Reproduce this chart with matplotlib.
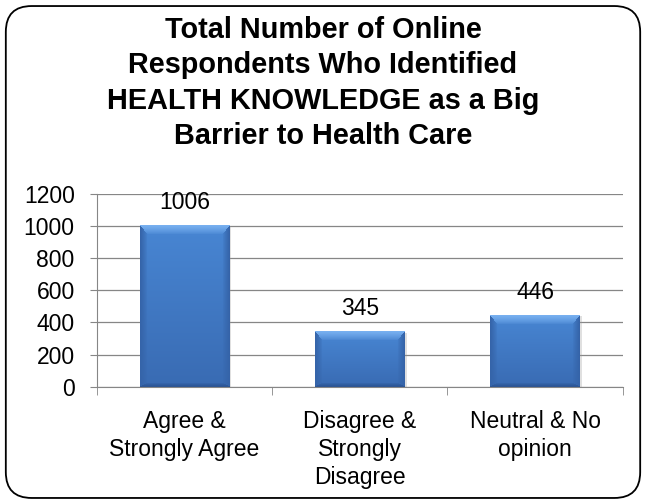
import matplotlib
matplotlib.use("Agg")
import matplotlib.pyplot as plt
import numpy as np
from matplotlib.patches import FancyBboxPatch
import matplotlib.colors as mcolors

categories = ["Agree &\nStrongly Agree", "Disagree &\nStrongly\nDisagree", "Neutral & No\nopinion"]
values = [1006, 345, 446]
yticks = [0, 200, 400, 600, 800, 1000, 1200]
title = "Total Number of Online\nRespondents Who Identified\nHEALTH KNOWLEDGE as a Big\nBarrier to Health Care"

plt.rcParams['font.family'] = ['Liberation Sans', 'DejaVu Sans']

fig = plt.figure(figsize=(6.46, 5.03), dpi=100)
fig.patch.set_facecolor('white')

# rounded border
border = FancyBboxPatch((0.009, 0.01), 0.982, 0.978, boxstyle="round,pad=0,rounding_size=0.04",
                        transform=fig.transFigure, fill=False, edgecolor='black', linewidth=1.3,
                        mutation_aspect=646/503)
fig.patches.append(border)

fig.text(0.5, 0.968, title, ha='center', va='top', fontsize=20.8, fontweight='bold',
         linespacing=1.33)

ax = fig.add_axes([0.150, 0.231, 0.814, 0.384])
x = np.arange(len(categories))
w = 0.51
ax.set_xlim(-0.5, len(categories) - 0.5)
ax.set_ylim(0, 1200)

bars = ax.bar(x, values, width=w, color='none', edgecolor='none', zorder=3)


def hexrgb(h):
    return np.array(mcolors.to_rgb(h))


c_in_top = hexrgb('#4886d3')
c_in_bot = hexrgb('#396bb3')
c_top_edge = hexrgb('#78b0f0')
c_side_edge = hexrgb('#3564a9')
c_bot_edge = hexrgb('#2a5494')

fig.canvas.draw()
for b in bars:
    x0, y0 = b.get_x(), b.get_y()
    bw, bh = b.get_width(), b.get_height()
    p0 = ax.transData.transform((x0, y0))
    p1 = ax.transData.transform((x0 + bw, y0 + bh))
    W = max(int(round(p1[0] - p0[0])), 2)
    H = max(int(round(p1[1] - p0[1])), 2)
    ii, jj = np.mgrid[0:H, 0:W].astype(float)
    t = ii / max(H - 1, 1)
    img = c_in_top[None, None, :] * (1 - t[..., None]) + c_in_bot[None, None, :] * t[..., None]
    bt, bs, bb = 9.0, 7.0, 4.0
    dt, db = ii / bt, (H - 1 - ii) / bb
    dl, dr = jj / bs, (W - 1 - jj) / bs
    ds = np.minimum(dl, dr)
    dmin = np.minimum(np.minimum(dt, db), ds)
    top = (dt == dmin) & (dt < 1)
    botm = (db == dmin) & (db < 1) & ~top
    side = (ds == dmin) & (ds < 1) & ~top & ~botm
    for mask, col, d in ((top, c_top_edge, dt), (botm, c_bot_edge, db), (side, c_side_edge, ds)):
        f = (1 - d[mask])[:, None] ** 0.8
        img[mask] = img[mask] * (1 - f) + col[None, :] * f
    ax.imshow(np.clip(img, 0, 1), extent=[x0, x0 + bw, y0, y0 + bh], aspect='auto', zorder=3.5,
              interpolation='bilinear', origin='upper')
    # soft shadow
    ax.bar(x0 + bw / 2 + 0.006, bh, width=bw + 0.012, bottom=-8, color='#999999', alpha=0.3,
           zorder=3, linewidth=0)

for xi, v in zip(x, values):
    ax.annotate(str(v), (xi, v), xytext=(0, 8), textcoords='offset points',
                ha='center', va='bottom', fontsize=16.5, zorder=5)

ax.set_xlim(-0.5, len(categories) - 0.5)
ax.set_ylim(0, 1200)
ax.set_yticks(yticks)
ax.set_yticklabels([str(t) for t in yticks], fontsize=16.5)
ax.set_xticks(x)
ax.set_xticklabels(categories, fontsize=16.5, linespacing=1.28)
ax.tick_params(axis='x', length=0, pad=17)
ax.set_xticks(np.arange(-0.5, len(categories)), minor=True)
ax.tick_params(axis='x', which='minor', length=6, color='#868686', direction='out')
ax.tick_params(axis='y', length=5, color='#868686', direction='out', pad=11)
ax.grid(axis='y', color='#868686', linewidth=0.9, zorder=0)
for s in ['top', 'right']:
    ax.spines[s].set_visible(False)
for s in ['left', 'bottom']:
    ax.spines[s].set_color('#868686')
    ax.spines[s].set_zorder(6)
ax.set_facecolor('none')

fig.savefig("out.png", dpi=100)
